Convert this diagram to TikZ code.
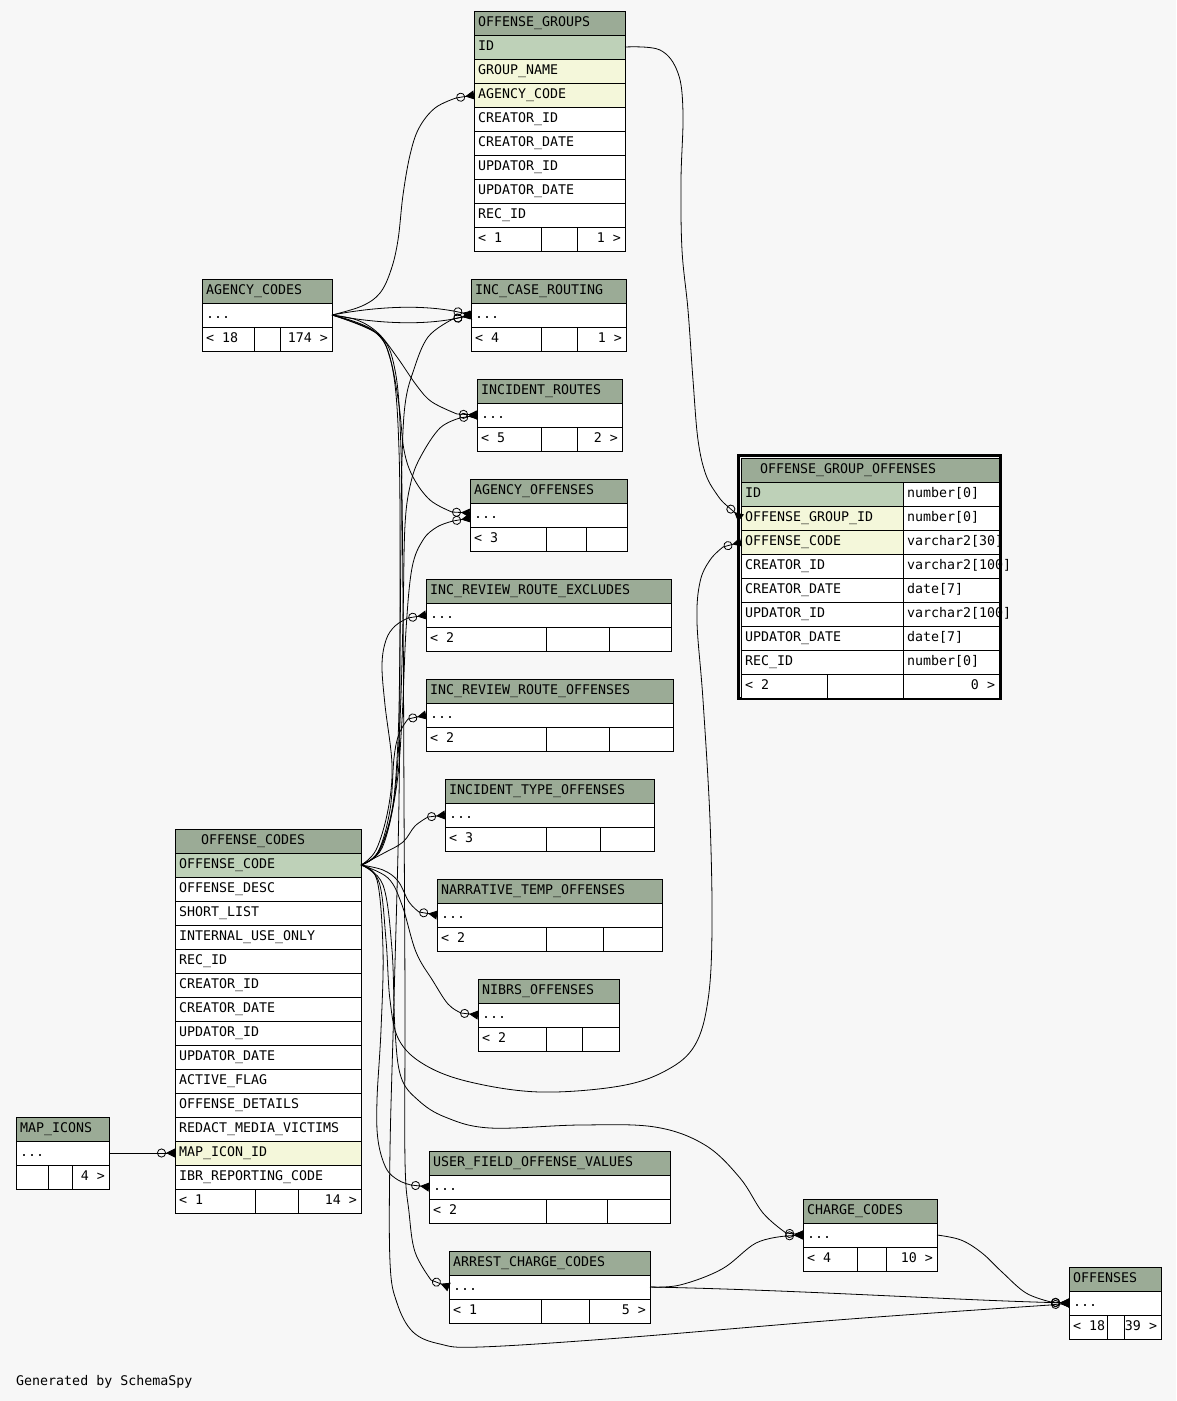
\documentclass[tikz,border=0pt]{standalone}
\usepackage{fontspec}
\newfontfamily\tabfont{DejaVu Sans Mono}
\usetikzlibrary{arrows.meta}
\definecolor{bgc}{HTML}{F7F7F7}
\definecolor{hdrc}{HTML}{9BAB96}
\definecolor{pkc}{HTML}{BED1B8}
\definecolor{fkc}{HTML}{F4F7DA}
\newcommand\tfont{\tabfont\fontsize{13.3pt}{16pt}\selectfont}
\tikzset{
 cell/.style={rectangle, draw=black, line width=1pt, fill=white, minimum height=24pt, inner sep=0pt, outer sep=0pt},
 hdr/.style={cell, fill=hdrc},
 pk/.style={cell, fill=pkc},
 fk/.style={cell, fill=fkc},
 lbl/.style={font=\tfont, text height=9.5pt, text depth=2pt, inner xsep=4pt, inner ysep=0pt, outer sep=0pt},
 tline/.style={line width=1pt},
 fkedge/.style={line width=0.8pt, -{Circle[open,length=9pt,width=9pt] Triangle[reversed,length=9pt,width=9pt]}},
 sm/.style={smooth, tension=0.6},
}
% name, x, y, w, text, indent
\newcommand\tbhead[6]{\node[hdr, minimum width=#4pt, anchor=north west, label={[lbl, anchor=west, xshift=#6pt]west:#5}] (#1) at (#2,#3) {};}
% name, x, y, w, style, text
\newcommand\tbcell[6]{\node[#5, minimum width=#4pt, anchor=north west, label={[lbl, anchor=west]west:#6}] (#1) at (#2,#3) {};}
% name, x, y, w, d1, d2, left, right
\newcommand\tbfoot[8]{\node[cell, minimum width=#4pt, anchor=north west, label={[lbl, anchor=west]west:#7}, label={[lbl, anchor=east]east:#8}] (#1) at (#2,#3) {};
 \draw[tline] (#5,#3) -- ++(0,24); \draw[tline] (#6,#3) -- ++(0,24);}
\begin{document}
\begin{tikzpicture}[x=1pt,y=-1pt]
\path[use as bounding box, fill=bgc] (0,0) rectangle (1176,1401);

% OFFENSE_GROUPS
\tbhead{og-h}{474}{11}{151}{OFFENSE\_GROUPS}{0}
\tbcell{og-id}{474}{35}{151}{pk}{ID}
\tbcell{og-gn}{474}{59}{151}{fk}{GROUP\_NAME}
\tbcell{og-ac}{474}{83}{151}{fk}{AGENCY\_CODE}
\tbcell{og-ci}{474}{107}{151}{cell}{CREATOR\_ID}
\tbcell{og-cd}{474}{131}{151}{cell}{CREATOR\_DATE}
\tbcell{og-ui}{474}{155}{151}{cell}{UPDATOR\_ID}
\tbcell{og-ud}{474}{179}{151}{cell}{UPDATOR\_DATE}
\tbcell{og-ri}{474}{203}{151}{cell}{REC\_ID}
\tbfoot{og-f}{474}{227}{151}{541}{577}{< 1}{1 >}

% AGENCY_CODES
\tbhead{ac-h}{202}{279}{130}{AGENCY\_CODES}{0}
\tbcell{ac-d}{202}{303}{130}{cell}{...}
\tbfoot{ac-f}{202}{327}{130}{254}{280}{< 18}{174 >}

% INC_CASE_ROUTING
\tbhead{icr-h}{471}{279}{155}{INC\_CASE\_ROUTING}{0}
\tbcell{icr-d}{471}{303}{155}{cell}{...}
\tbfoot{icr-f}{471}{327}{155}{541}{577}{< 4}{1 >}

% INCIDENT_ROUTES
\tbhead{ir-h}{477}{379}{145}{INCIDENT\_ROUTES}{0}
\tbcell{ir-d}{477}{403}{145}{cell}{...}
\tbfoot{ir-f}{477}{427}{145}{541}{577}{< 5}{2 >}

% AGENCY_OFFENSES
\tbhead{ao-h}{470}{479}{157}{AGENCY\_OFFENSES}{0}
\tbcell{ao-d}{470}{503}{157}{cell}{...}
\tbfoot{ao-f}{470}{527}{157}{546}{586}{< 3}{}

% INC_REVIEW_ROUTE_EXCLUDES
\tbhead{irre-h}{426}{579}{245}{INC\_REVIEW\_ROUTE\_EXCLUDES}{0}
\tbcell{irre-d}{426}{603}{245}{cell}{...}
\tbfoot{irre-f}{426}{627}{245}{546}{609}{< 2}{}

% INC_REVIEW_ROUTE_OFFENSES
\tbhead{irro-h}{426}{679}{247}{INC\_REVIEW\_ROUTE\_OFFENSES}{0}
\tbcell{irro-d}{426}{703}{247}{cell}{...}
\tbfoot{irro-f}{426}{727}{247}{546}{609}{< 2}{}

% INCIDENT_TYPE_OFFENSES
\tbhead{ito-h}{445}{779}{209}{INCIDENT\_TYPE\_OFFENSES}{0}
\tbcell{ito-d}{445}{803}{209}{cell}{...}
\tbfoot{ito-f}{445}{827}{209}{546}{600}{< 3}{}

% NARRATIVE_TEMP_OFFENSES
\tbhead{nto-h}{437}{879}{225}{NARRATIVE\_TEMP\_OFFENSES}{0}
\tbcell{nto-d}{437}{903}{225}{cell}{...}
\tbfoot{nto-f}{437}{927}{225}{546}{603}{< 2}{}

% NIBRS_OFFENSES
\tbhead{no-h}{478}{979}{141}{NIBRS\_OFFENSES}{0}
\tbcell{no-d}{478}{1003}{141}{cell}{...}
\tbfoot{no-f}{478}{1027}{141}{546}{582}{< 2}{}

% OFFENSE_CODES
\tbhead{oc-h}{175}{829}{186}{OFFENSE\_CODES}{22}
\tbcell{oc-code}{175}{853}{186}{pk}{OFFENSE\_CODE}
\tbcell{oc-desc}{175}{877}{186}{cell}{OFFENSE\_DESC}
\tbcell{oc-sl}{175}{901}{186}{cell}{SHORT\_LIST}
\tbcell{oc-iuo}{175}{925}{186}{cell}{INTERNAL\_USE\_ONLY}
\tbcell{oc-ri}{175}{949}{186}{cell}{REC\_ID}
\tbcell{oc-ci}{175}{973}{186}{cell}{CREATOR\_ID}
\tbcell{oc-cd}{175}{997}{186}{cell}{CREATOR\_DATE}
\tbcell{oc-ui}{175}{1021}{186}{cell}{UPDATOR\_ID}
\tbcell{oc-ud}{175}{1045}{186}{cell}{UPDATOR\_DATE}
\tbcell{oc-af}{175}{1069}{186}{cell}{ACTIVE\_FLAG}
\tbcell{oc-od}{175}{1093}{186}{cell}{OFFENSE\_DETAILS}
\tbcell{oc-rmv}{175}{1117}{186}{cell}{REDACT\_MEDIA\_VICTIMS}
\tbcell{oc-map}{175}{1141}{186}{fk}{MAP\_ICON\_ID}
\tbcell{oc-ibr}{175}{1165}{186}{cell}{IBR\_REPORTING\_CODE}
\tbfoot{oc-f}{175}{1189}{186}{255}{298}{< 1}{14 >}

% MAP_ICONS
\tbhead{mi-h}{16}{1117}{93}{MAP\_ICONS}{0}
\tbcell{mi-d}{16}{1141}{93}{cell}{...}
\tbfoot{mi-f}{16}{1165}{93}{48}{72}{}{4 >}

% USER_FIELD_OFFENSE_VALUES
\tbhead{ufov-h}{429}{1151}{241}{USER\_FIELD\_OFFENSE\_VALUES}{0}
\tbcell{ufov-d}{429}{1175}{241}{cell}{...}
\tbfoot{ufov-f}{429}{1199}{241}{546}{607}{< 2}{}

% ARREST_CHARGE_CODES
\tbhead{acc-h}{449}{1251}{201}{ARREST\_CHARGE\_CODES}{0}
\tbcell{acc-d}{449}{1275}{201}{cell}{...}
\tbfoot{acc-f}{449}{1299}{201}{541}{589}{< 1}{5 >}

% CHARGE_CODES
\tbhead{cc-h}{803}{1199}{134}{CHARGE\_CODES}{0}
\tbcell{cc-d}{803}{1223}{134}{cell}{...}
\tbfoot{cc-f}{803}{1247}{134}{857}{886}{< 4}{10 >}

% OFFENSES
\tbhead{off-h}{1069}{1267}{92}{OFFENSES}{0}
\tbcell{off-d}{1069}{1291}{92}{cell}{...}
\tbfoot{off-f}{1069}{1315}{92}{1107}{1124}{< 18}{39 >}

% OFFENSE_GROUP_OFFENSES (focus table)
\draw[line width=3pt] (738.5,455.5) rectangle (1000.5,698.5);
\tbhead{ogo-h}{741}{458}{258}{OFFENSE\_GROUP\_OFFENSES}{15}
\tbcell{ogo-id}{741}{482}{162}{pk}{ID}
\tbcell{ogo-idt}{903}{482}{96}{cell}{number[0]}
\tbcell{ogo-gid}{741}{506}{162}{fk}{OFFENSE\_GROUP\_ID}
\tbcell{ogo-gidt}{903}{506}{96}{cell}{number[0]}
\tbcell{ogo-code}{741}{530}{162}{fk}{OFFENSE\_CODE}
\tbcell{ogo-codet}{903}{530}{96}{cell}{varchar2[30]}
\tbcell{ogo-ci}{741}{554}{162}{cell}{CREATOR\_ID}
\tbcell{ogo-cit}{903}{554}{96}{cell}{varchar2[100]}
\tbcell{ogo-cd}{741}{578}{162}{cell}{CREATOR\_DATE}
\tbcell{ogo-cdt}{903}{578}{96}{cell}{date[7]}
\tbcell{ogo-ui}{741}{602}{162}{cell}{UPDATOR\_ID}
\tbcell{ogo-uit}{903}{602}{96}{cell}{varchar2[100]}
\tbcell{ogo-ud}{741}{626}{162}{cell}{UPDATOR\_DATE}
\tbcell{ogo-udt}{903}{626}{96}{cell}{date[7]}
\tbcell{ogo-ri}{741}{650}{162}{cell}{REC\_ID}
\tbcell{ogo-rit}{903}{650}{96}{cell}{number[0]}
\tbfoot{ogo-f}{741}{674}{258}{827}{903}{< 2}{0 >}

\node[font=\tfont, anchor=west, inner sep=0pt] (gen) at (16,1382) {Generated by SchemaSpy};

% ---------- connectors ----------
% OFFENSE_GROUPS -> OFFENSE_GROUP_OFFENSES
\draw[fkedge] plot[sm] coordinates {(og-id.east) (660,50) (678,73) (683,113) (681,180) (682,250) (688,310) (693,380) (698,440) (706,475) (718,496) (725,504)} -- (ogo-gid.west);
% MAP_ICONS -> OFFENSE_CODES
\draw[fkedge] (mi-d.east) -- (oc-map.west);

% AGENCY_CODES children
\draw[fkedge] plot[sm] coordinates {(ac-d.east) (362,306) (380,293) (391,270) (398,240) (403,195) (410,155) (419,128) (435,108) (456,98)} -- (og-ac.west);
\draw[fkedge] (ac-d.east) .. controls (385,305) and (430,305) .. (icr-d.west);
\draw[fkedge] (ac-d.east) .. controls (385,325) and (430,325) .. (icr-d.west);
\draw[fkedge] plot[sm] coordinates {(ac-d.east) (357,320) (378,333) (397,357) (417,386) (432,402) (457,414)} -- (ir-d.west);
\draw[fkedge] plot[sm] coordinates {(ac-d.east) (376,333) (390,358) (399,405) (404,450) (413,477) (430,500) (452,512)} -- ([yshift=2pt]ao-d.west);
\draw[fkedge] plot[sm] coordinates {(ac-d.east) (378,334) (395,370) (401,450) (403,600) (404,800) (405,1000) (405,1160) (409,1212) (415,1252) (431,1280)} -- (acc-d.west);
\draw[fkedge] plot[sm] coordinates {(ac-d.east) (374,331) (392,366) (399,450) (400,600) (399,800) (394,1000) (390,1150) (390,1262) (397,1303) (413,1332) (440,1344) (480,1347) (620,1338) (850,1319) (1050,1305)} -- (off-d.west);

% OFFENSE_CODES children
\draw[fkedge] plot[sm] coordinates {(oc-code.east) (378,852) (392,810) (398,740) (400,640) (401,540) (402,460) (405,405) (413,372) (428,337) (453,319)} -- (icr-d.west);
\draw[fkedge] plot[sm] coordinates {(oc-code.east) (380,850) (394,800) (400,720) (403,620) (405,525) (411,482) (421,456) (440,428) (460,418)} -- (ir-d.west);
\draw[fkedge] plot[sm] coordinates {(oc-code.east) (382,848) (396,790) (402,720) (406,630) (412,568) (423,540) (437,527) (453,521)} -- ([yshift=-3pt]ao-d.west);
\draw[fkedge] plot[sm] coordinates {(oc-code.east) (376,850) (388,810) (392,765) (385,705) (382,665) (386,640) (395,626) (408,618)} -- (irre-d.west);
\draw[fkedge] plot[sm] coordinates {(oc-code.east) (378,852) (390,810) (394,758) (399,734) (408,719)} -- (irro-d.west);
\draw[fkedge] plot[sm] coordinates {(oc-code.east) (384,853) (403,842) (415,826) (428,817)} -- (ito-d.west);
\draw[fkedge] plot[sm] coordinates {(oc-code.east) (383,870) (398,881) (409,902) (419,912)} -- (nto-d.west);
\draw[fkedge] plot[sm] coordinates {(oc-code.east) (388,878) (402,905) (416,952) (433,981) (448,1004) (461,1013)} -- (no-d.west);
\draw[fkedge] plot[sm] coordinates {(oc-code.east) (377,880) (383,950) (381,1030) (377,1100) (378,1140) (386,1168) (398,1180) (411,1185)} -- (ufov-d.west);
\draw[fkedge] plot[sm] coordinates {(oc-code.east) (383,885) (392,950) (395,1030) (401,1077) (418,1100) (445,1117) (490,1128) (580,1125) (655,1127) (705,1145) (740,1178) (763,1213) (786,1233)} -- (cc-d.west);
\draw[fkedge] plot[sm] coordinates {(oc-code.east) (379,882) (386,940) (390,1000) (399,1040) (425,1065) (470,1082) (540,1092) (620,1086) (667,1070) (695,1045) (708,1000) (712,930) (710,820) (703,700) (697,622) (700,582) (710,560) (723,547)} -- (ogo-code.west);

% ARREST_CHARGE_CODES / CHARGE_CODES -> ...
\draw[fkedge] plot[sm] coordinates {(acc-d.east) (680,1285) (722,1269) (756,1243) (786,1236)} -- (cc-d.west);
\draw[fkedge] (acc-d.east) .. controls (800,1290) and (950,1300) .. (off-d.west);
\draw[fkedge] plot[sm] coordinates {(cc-d.east) (961,1240) (982,1253) (1002,1272) (1026,1293) (1051,1302)} -- (off-d.west);
\end{tikzpicture}
\end{document}
